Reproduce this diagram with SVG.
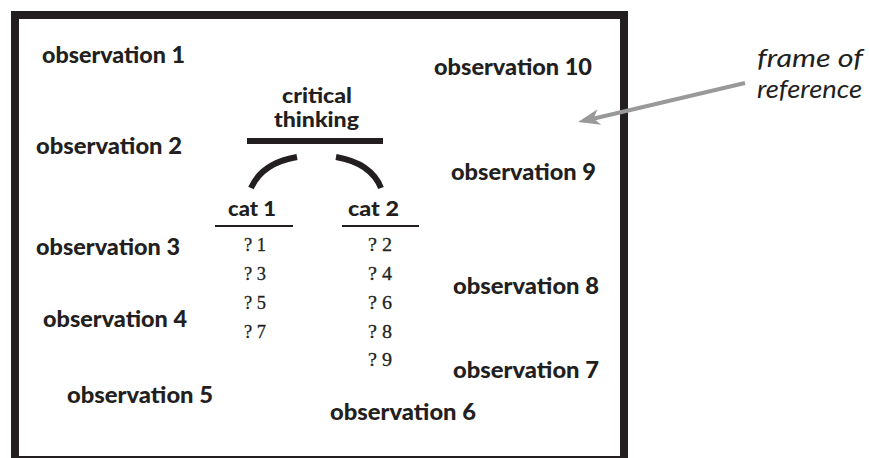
<svg xmlns="http://www.w3.org/2000/svg" width="869" height="458" viewBox="0 0 869 458">
<style>
.obs{font-family:Lato,"Liberation Sans",Arial,sans-serif;font-weight:900;font-size:23px;fill:#231f20}
.hd{font-family:Lato,"Liberation Sans",Arial,sans-serif;font-weight:900;font-size:21px;fill:#231f20;text-anchor:middle}
.it{font-family:"Liberation Serif","Times New Roman",serif;font-size:19px;fill:#231f20;stroke:#231f20;stroke-width:0.3}
.lbl{font-family:Lato,"Liberation Sans",Arial,sans-serif;font-style:italic;font-size:26px;fill:#231f20}
.arc{fill:none;stroke:#231f20;stroke-width:6}
</style>
<rect x="0" y="0" width="869" height="458" fill="#ffffff"/>
<rect id="frame" x="15" y="15" width="609" height="445" fill="none" stroke="#231f20" stroke-width="8"/>
<g id="obs1"><text class="obs" x="42" y="63" textLength="143" lengthAdjust="spacingAndGlyphs">observation 1</text></g>
<g id="obs2"><text class="obs" x="36" y="154" textLength="146" lengthAdjust="spacingAndGlyphs">observation 2</text></g>
<g id="obs3"><text class="obs" x="36" y="255" textLength="144" lengthAdjust="spacingAndGlyphs">observation 3</text></g>
<g id="obs4"><text class="obs" x="43" y="327" textLength="144" lengthAdjust="spacingAndGlyphs">observation 4</text></g>
<g id="obs5"><text class="obs" x="67" y="403" textLength="146" lengthAdjust="spacingAndGlyphs">observation 5</text></g>
<g id="obs6"><text class="obs" x="330" y="420" textLength="146" lengthAdjust="spacingAndGlyphs">observation 6</text></g>
<g id="obs7"><text class="obs" x="453" y="378" textLength="146" lengthAdjust="spacingAndGlyphs">observation 7</text></g>
<g id="obs8"><text class="obs" x="453" y="294" textLength="146" lengthAdjust="spacingAndGlyphs">observation 8</text></g>
<g id="obs9"><text class="obs" x="451" y="180" textLength="145" lengthAdjust="spacingAndGlyphs">observation 9</text></g>
<g id="obs10"><text class="obs" x="434" y="75" textLength="158" lengthAdjust="spacingAndGlyphs">observation 10</text></g>
<g id="critical">
<text class="hd" x="317" y="103" textLength="70" lengthAdjust="spacingAndGlyphs">critical</text>
<text class="hd" x="316.5" y="127" textLength="85" lengthAdjust="spacingAndGlyphs">thinking</text>
<rect x="247" y="138" width="136" height="6" fill="#231f20"/>
</g>
<g id="cat1">
<text class="hd" x="252" y="216" textLength="48" lengthAdjust="spacingAndGlyphs">cat 1</text>
<line x1="215" y1="226" x2="293" y2="226" stroke="#231f20" stroke-width="2"/>
<text class="it" x="244" y="251" textLength="22" lengthAdjust="spacingAndGlyphs">? 1</text>
<text class="it" x="244" y="280" textLength="22" lengthAdjust="spacingAndGlyphs">? 3</text>
<text class="it" x="244" y="309" textLength="22" lengthAdjust="spacingAndGlyphs">? 5</text>
<text class="it" x="244" y="338" textLength="22" lengthAdjust="spacingAndGlyphs">? 7</text>
</g>
<g id="cat2">
<text class="hd" x="373.5" y="216" textLength="51" lengthAdjust="spacingAndGlyphs">cat 2</text>
<line x1="342" y1="226" x2="419" y2="226" stroke="#231f20" stroke-width="2"/>
<text class="it" x="368" y="251" textLength="24" lengthAdjust="spacingAndGlyphs">? 2</text>
<text class="it" x="368" y="280" textLength="24" lengthAdjust="spacingAndGlyphs">? 4</text>
<text class="it" x="368" y="309" textLength="24" lengthAdjust="spacingAndGlyphs">? 6</text>
<text class="it" x="368" y="338" textLength="24" lengthAdjust="spacingAndGlyphs">? 8</text>
<text class="it" x="368" y="366" textLength="24" lengthAdjust="spacingAndGlyphs">? 9</text>
</g>
<g id="label">
<text class="lbl" x="757" y="67" textLength="106" lengthAdjust="spacingAndGlyphs">frame of</text>
<text class="lbl" x="757" y="98" textLength="105" lengthAdjust="spacingAndGlyphs">reference</text>
</g>
<g id="connectors">
<path class="arc" d="M297,157 Q262,163 251,188"/>
<path class="arc" d="M336,157 Q371,163 381,188"/>
<line x1="745" y1="83" x2="592" y2="119" stroke="#999999" stroke-width="4"/>
<path d="M578,122 L597.6,109.2 L593.6,118.4 L601.2,124.8 Z" fill="#999999"/>
</g>
</svg>
